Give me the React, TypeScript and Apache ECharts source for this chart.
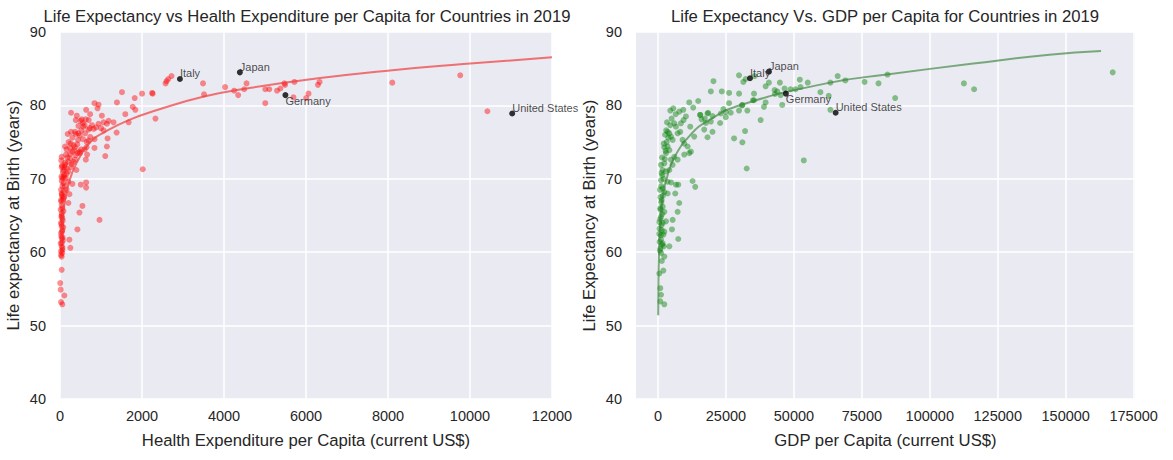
import React, { useEffect, useRef } from "react";
import * as echarts from "echarts";

// Health expenditure per capita (current US$) vs life expectancy (years)
const healthPoints: [number, number][] = [
  [2574, 83.0], [2640, 83.6], [2720, 84.0], [2600, 83.3],
  [1512, 81.8], [1822, 81.0], [2002, 81.6], [2247, 81.7], [2260, 81.6], [1389, 80.4],
  [1773, 79.8], [1838, 79.4], [1593, 78.8], [1675, 77.7], [2328, 78.2], [2018, 71.3], [964, 64.4], [1381, 76.3],
  [3488, 83.0], [3513, 81.5], [4027, 82.5], [4248, 82.0], [4346, 81.4], [4493, 82.2], [4550, 83.0],
  [5007, 80.3], [5007, 82.2], [5105, 82.2], [5294, 82.0], [5375, 82.3], [5473, 83.0], [5490, 82.8],
  [5718, 83.2], [5694, 81.1], [6005, 81.0], [6061, 81.6], [6291, 82.8], [6331, 83.2], [8105, 83.1],
  [9762, 84.1], [10424, 79.2],
  [841, 80.3], [940, 80.1], [915, 79.6], [270, 79.0], [637, 79.4], [735, 78.8], [384, 78.0], [531, 78.1],
  [629, 78.1], [1021, 78.6], [1062, 77.7], [1185, 77.9], [1307, 77.7], [940, 77.5], [1144, 77.5], [556, 77.6],
  [188, 76.1], [270, 76.4], [368, 76.4], [384, 76.1], [449, 76.2], [572, 77.1], [695, 76.7], [727, 76.9],
  [613, 76.2], [735, 75.7], [841, 75.4], [1062, 76.6], [1160, 75.5],
  [123, 74.4], [163, 74.0], [245, 74.2], [368, 74.3], [474, 73.7], [515, 74.0], [654, 75.0], [695, 75.2],
  [646, 74.3], [841, 74.2], [1144, 74.4], [1103, 73.1], [662, 73.3], [629, 72.6], [433, 73.5], [490, 73.5],
  [41, 73.0], [41, 71.6], [82, 71.2], [123, 71.9], [163, 71.4], [204, 72.3], [245, 72.8], [270, 71.6],
  [286, 72.0], [327, 72.3], [368, 72.6], [400, 71.2], [163, 70.7], [106, 70.5], [57, 70.1], [41, 69.7],
  [82, 69.4], [204, 69.6], [302, 69.3], [507, 69.2], [637, 69.5], [637, 68.8],
  [25, 68.5], [41, 68.0], [57, 67.6], [25, 67.1], [41, 66.4], [16, 65.8], [41, 65.3], [57, 64.6],
  [25, 64.0], [41, 63.5], [57, 63.0], [25, 62.6], [41, 61.9], [16, 61.2], [41, 60.8], [57, 60.3], [25, 59.6],
  [229, 67.9], [204, 66.7], [547, 66.3], [474, 65.4], [425, 63.1], [229, 61.7], [253, 60.6],
  [41, 57.6], [5, 55.8], [16, 54.9], [106, 54.1], [25, 53.2], [57, 52.9],
  [30, 72.5], [50, 71.8], [70, 70.9], [35, 70.3], [60, 69.0], [90, 68.3], [45, 67.8], [75, 67.2],
  [30, 66.9], [55, 66.0], [85, 65.6], [40, 65.0], [65, 64.3], [35, 63.8], [80, 63.4], [50, 62.8],
  [30, 62.2], [70, 61.6], [45, 61.3], [60, 60.6], [25, 60.1], [55, 59.9], [40, 59.4], [65, 62.0],
  [35, 64.8], [95, 70.2], [110, 71.6], [130, 72.2], [150, 73.3], [180, 72.9], [200, 71.0], [140, 70.1],
  [120, 69.0], [100, 67.5], [160, 68.5],
  [210, 75.0], [260, 74.8], [300, 75.6], [330, 74.6], [350, 73.9], [420, 74.7], [440, 75.3], [480, 75.9],
  [520, 76.6], [560, 75.4], [600, 74.0], [380, 73.2], [250, 73.4], [300, 73.7], [450, 77.2], [500, 77.9],
  [410, 78.6], [600, 77.3], [700, 78.0], [780, 77.3], [820, 76.8], [880, 77.0], [1000, 76.9],
];

// Fitted curve (health expenditure, life expectancy)
const healthFit: [number, number][] = [
  [30, 61.1], [60, 64.0], [100, 66.2], [200, 69.1], [400, 72.1], [777, 75.2], [1103, 76.4],
  [1675, 78.0], [2328, 79.3], [3513, 81.2], [4657, 82.4], [6290, 83.7], [8105, 84.8],
  [9762, 85.6], [12000, 86.55],
];

// GDP per capita (current US$) vs life expectancy (years)
const gdpPoints: [number, number][] = [
  [19430, 81.9], [23460, 81.9], [26150, 81.7], [29820, 81.6], [35320, 81.6], [39590, 80.4], [43020, 81.55],
  [45090, 81.4], [45700, 80.06], [11490, 80.4], [14790, 80.6], [12950, 79.7], [4520, 79.3], [5620, 79.6],
  [7820, 79.15], [9290, 79.4], [26150, 80.3], [31040, 80.06], [32870, 79.3], [35320, 80.7], [37760, 78.0],
  [38980, 79.8], [24070, 79.5], [23100, 78.9], [24930, 78.4], [22850, 77.6], [19430, 77.8], [15520, 78.7],
  [18210, 78.9], [16010, 78.1], [17600, 77.6], [20040, 76.4], [16990, 76.7], [27980, 75.5], [31040, 74.97],
  [32020, 76.5], [32630, 71.4], [12710, 69.7], [13690, 68.9], [18210, 75.66], [11850, 77.1], [13320, 75.75],
  [10270, 78.5], [9410, 78.0], [5990, 77.56], [6600, 77.1], [8430, 77.56], [3540, 76.4], [4160, 76.2],
  [4770, 75.75], [5380, 75.3], [7210, 76.2], [8190, 76.4], [9040, 75.3], [9650, 74.8], [10880, 74.4],
  [11490, 73.5], [12100, 73.7], [9650, 73.3], [7210, 72.6], [5990, 73.0], [3540, 74.4], [2320, 74.3],
  [2930, 73.5], [4160, 73.9], [4770, 72.6], [5380, 71.9], [2320, 72.1], [1100, 71.9], [1710, 71.2],
  [2930, 71.0], [4160, 71.2], [1100, 69.8], [3540, 69.6], [4770, 69.5], [1710, 68.7], [2320, 68.2],
  [3540, 68.0], [6350, 68.0], [6600, 69.2], [7450, 69.2], [1340, 67.1], [840, 66.0], [1710, 66.2],
  [2320, 65.5], [1100, 64.8], [1710, 64.0], [2930, 64.2], [1340, 63.0], [2320, 62.8], [480, 62.5],
  [1100, 61.7], [1710, 61.2], [840, 60.5], [2080, 60.8], [4160, 60.8], [5130, 63.1], [5380, 64.4],
  [7210, 65.5], [7820, 66.7], [7450, 61.8], [1100, 59.9], [2320, 59.4], [480, 57.1], [1960, 57.5],
  [840, 55.1], [1100, 54.2], [840, 53.3], [2320, 52.9],
  [700, 68.5], [900, 67.5], [1200, 66.8], [1500, 65.2], [800, 64.5], [1300, 63.7], [600, 63.2],
  [1000, 62.3], [1500, 61.0], [700, 60.2], [900, 65.8], [1800, 67.7], [1200, 69.0], [1600, 70.5],
  [2000, 70.0], [2500, 72.7], [1500, 72.9], [2800, 73.8], [3200, 75.0], [3800, 75.6], [2600, 76.0],
  [3000, 76.6], [4500, 77.3], [5000, 78.2], [6500, 78.8], [3300, 77.7], [2100, 74.8], [1300, 70.8],
  [600, 61.4], [1400, 58.8], [500, 64.1], [2000, 62.4],
  [29800, 84.1], [31400, 83.2], [32250, 83.6], [35560, 84.0], [20400, 83.3], [39600, 82.6], [40800, 83.1],
  [44840, 83.1], [42900, 82.1], [43870, 81.9], [46560, 82.3], [48760, 82.2], [50590, 82.2], [52180, 83.5],
  [55100, 83.1], [52420, 82.5], [59750, 81.8], [62810, 81.3], [63420, 79.4], [63420, 83.1], [66100, 84.0],
  [68920, 83.4], [76000, 83.2], [81130, 83.0], [18450, 79.0], [15510, 78.7], [17230, 78.2], [20050, 78.55],
  [24930, 79.1], [26760, 79.0], [29800, 79.3], [30910, 80.0], [34930, 80.7], [53640, 72.5],
  [112550, 83.0], [116300, 82.2], [84430, 84.2], [87250, 81.0], [167300, 84.5],
];

// Fitted curve (GDP per capita, life expectancy)
const gdpFit: [number, number][] = [
  [60, 51.4], [150, 56.0], [300, 59.0], [600, 62.5], [1100, 65.5], [2000, 68.1], [3000, 69.8],
  [6000, 72.9], [12000, 76.0], [18000, 77.8], [30400, 80.05], [63400, 83.1], [84200, 84.2],
  [116000, 85.7], [144000, 86.9], [163000, 87.4],
];

const highlightNames = ["Italy", "Japan", "Germany", "United States"];
const highlightHealth: [number, number][] = [[2925, 83.6], [4387, 84.5], [5498, 81.4], [11029, 78.9]];
const highlightGdp: [number, number][] = [[33840, 83.7], [40810, 84.6], [47040, 81.6], [65360, 79.0]];

const healthTicks = [0, 2000, 4000, 6000, 8000, 10000, 12000];
const gdpTicks = [0, 25000, 50000, 75000, 100000, 125000, 150000, 175000];
const lifeTicks = [40, 50, 60, 70, 80, 90];

const FONT = "'Liberation Sans', Arial, sans-serif";
const TXT = "#262626";
const NAME_SIZE = 16.7;

function highlightData(points: [number, number][]) {
  return points.map((p, i) => ({
    value: p,
    name: highlightNames[i],
    label: { verticalAlign: highlightNames[i] === "Germany" ? "top" : "bottom" },
  }));
}

function axisCommon() {
  return {
    type: "value" as const,
    axisLine: { show: false },
    axisTick: { show: false },
    splitLine: { show: true, lineStyle: { color: "#ffffff", width: 1.5 } },
    axisLabel: { color: TXT, fontSize: 14.5, fontFamily: FONT, formatter: (v: number) => String(v) },
    nameLocation: "middle" as const,
    nameTextStyle: { color: TXT, fontSize: NAME_SIZE, fontFamily: FONT },
  };
}

export default function App() {
  const ref = useRef<HTMLDivElement>(null);
  useEffect(() => {
    if (!ref.current) return;
    const chart = echarts.init(ref.current, undefined, { renderer: "svg" });
    const base = axisCommon();
    chart.setOption({
      animation: false,
      backgroundColor: "#ffffff",
      textStyle: { fontFamily: FONT },
      graphic: [
        {
          type: "text", x: 307, y: 16,
          style: {
            text: "Life Expectancy vs Health Expenditure per Capita for Countries in 2019",
            fill: TXT, font: `${NAME_SIZE}px ${FONT}`, textAlign: "center", textVerticalAlign: "middle",
          },
        },
        {
          type: "text", x: 885, y: 16,
          style: {
            text: "Life Expectancy Vs. GDP per Capita for Countries in 2019",
            fill: TXT, font: `${NAME_SIZE}px ${FONT}`, textAlign: "center", textVerticalAlign: "middle",
          },
        },
      ],
      grid: [
        { left: 60, top: 32, width: 492, height: 367, show: true, backgroundColor: "#EAEAF2", borderWidth: 0 },
        { left: 636, top: 32, width: 499, height: 367, show: true, backgroundColor: "#EAEAF2", borderWidth: 0 },
      ],
      xAxis: [
        {
          ...base, gridIndex: 0, min: healthTicks[0], max: healthTicks[healthTicks.length - 1], interval: 2000,
          axisLabel: { ...base.axisLabel, margin: 9 },
          name: "Health Expenditure per Capita (current US$)", nameGap: 33,
        },
        {
          ...base, gridIndex: 1, min: -8100, max: 175500,
          axisTick: { show: false, customValues: gdpTicks },
          axisLabel: { ...base.axisLabel, margin: 9, customValues: gdpTicks },
          name: "GDP per Capita (current US$)", nameGap: 33,
        },
      ],
      yAxis: [
        {
          ...base, gridIndex: 0, min: lifeTicks[0], max: lifeTicks[lifeTicks.length - 1], interval: 10,
          axisLabel: { ...base.axisLabel, margin: 14 },
          name: "Life expectancy at Birth (years)", nameGap: 38,
        },
        {
          ...base, gridIndex: 1, min: lifeTicks[0], max: lifeTicks[lifeTicks.length - 1], interval: 10,
          axisLabel: { ...base.axisLabel, margin: 14 },
          name: "Life Expectancy at Birth (years)", nameGap: 38,
        },
      ],
      series: [
        {
          type: "scatter", xAxisIndex: 0, yAxisIndex: 0, data: healthPoints, symbolSize: 6, z: 2,
          itemStyle: { color: "rgba(255,0,0,0.55)" },
        },
        {
          type: "line", xAxisIndex: 0, yAxisIndex: 0, data: healthFit, showSymbol: false, smooth: true, z: 3,
          lineStyle: { color: "rgba(240,60,60,0.7)", width: 2 },
        },
        {
          type: "scatter", xAxisIndex: 0, yAxisIndex: 0, data: highlightData(highlightHealth), symbolSize: 6, z: 4,
          itemStyle: { color: "#000000" },
          label: { show: true, formatter: "{b}", position: [3, 3], align: "left", color: "#1a1a1a", fontSize: 11, fontFamily: FONT },
        },
        {
          type: "scatter", xAxisIndex: 1, yAxisIndex: 1, data: gdpPoints, symbolSize: 6, z: 2,
          itemStyle: { color: "rgba(0,128,0,0.55)" },
        },
        {
          type: "line", xAxisIndex: 1, yAxisIndex: 1, data: gdpFit, showSymbol: false, smooth: true, z: 3,
          lineStyle: { color: "rgba(60,130,60,0.65)", width: 2 },
        },
        {
          type: "scatter", xAxisIndex: 1, yAxisIndex: 1, data: highlightData(highlightGdp), symbolSize: 6, z: 4,
          itemStyle: { color: "#000000" },
          label: { show: true, formatter: "{b}", position: [3, 3], align: "left", color: "#1a1a1a", fontSize: 11, fontFamily: FONT },
        },
      ],
    });
    return () => chart.dispose();
  }, []);
  return (
    <div
      ref={ref}
      style={{ position: "fixed", left: 0, top: 0, width: 1173, height: 460 }}
    />
  );
}
